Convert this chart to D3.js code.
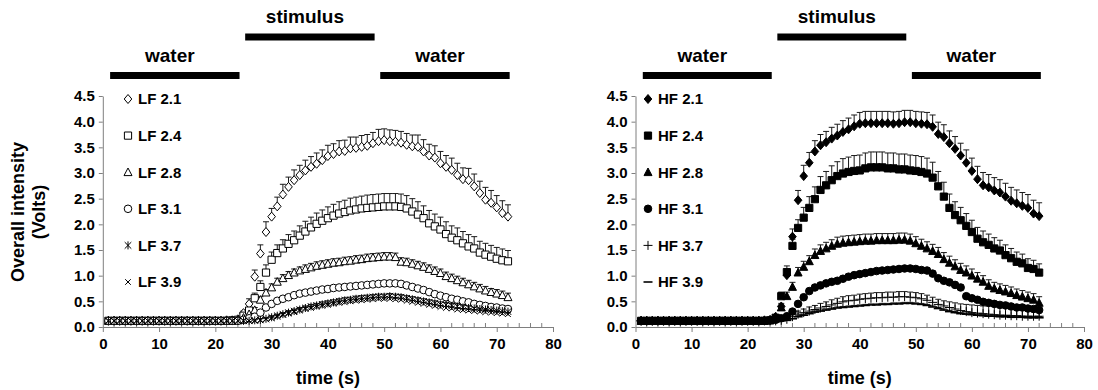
<!DOCTYPE html>
<html>
<head>
<meta charset="utf-8">
<script src="https://cdn.jsdelivr.net/npm/d3@7"></script>
<style>
  body { margin: 0; background: #fff; }
  svg text { font-family: "Liberation Sans", Arial, sans-serif; font-weight: bold; fill: #000; }
</style>
</head>
<body>
<svg id="chart" width="1098" height="390"></svg>
<script>
// sampling times (s)
const time = [1,2,3,4,5,6,7,8,9,10,11,12, 13,14,15,16,17,18,19,20,21,22,23,24,
  25,26,27,28,29,30,31,32,33,34,35,36, 37,38,39,40,41,42,43,44,45,46,47,48,
  49,50,51,52,53,54,55,56,57,58,59,60, 61,62,63,64,65,66,67,68,69,70,71,72];

// phases shown above each panel
const phaseLabels = ["water", "stimulus", "water"];
const phaseStart = [1.3, 25.3, 49.3];
const phaseEnd = [24.3, 48.3, 72.3];

const yTicks = [0, 0.5, 1, 1.5, 2, 2.5, 3, 3.5, 4, 4.5];
const xTicks = [0, 10, 20, 30, 40, 50, 60, 70, 80];

// ---- LF series (open markers) ----
const lfNames = ["LF 2.1", "LF 2.4", "LF 2.8", "LF 3.1", "LF 3.7", "LF 3.9"];
const lf21 = [0.12,0.12,0.12,0.12,0.12,0.12,0.12,0.12,0.12,0.12,0.12,0.12,
  0.12,0.12,0.12,0.12,0.12,0.12,0.12,0.12,0.12,0.13,0.13,0.15,
  0.27,0.45,0.98,1.43,1.85,2.15,2.35,2.58,2.73,2.86,2.96,3.05,
  3.12,3.18,3.25,3.33,3.37,3.42,3.43,3.48,3.49,3.51,3.53,3.58,
  3.62,3.64,3.62,3.61,3.59,3.55,3.52,3.51,3.42,3.34,3.30,3.19,
  3.12,3.06,2.96,2.88,2.86,2.74,2.61,2.48,2.42,2.33,2.22,2.15];
const lf24 = [0.12,0.12,0.12,0.12,0.12,0.12,0.12,0.12,0.12,0.12,0.12,0.12,
  0.12,0.12,0.12,0.12,0.12,0.12,0.12,0.12,0.12,0.12,0.13,0.14,
  0.22,0.32,0.56,0.78,1.06,1.31,1.44,1.53,1.62,1.69,1.78,1.86,
  1.94,2.01,2.07,2.12,2.17,2.21,2.24,2.27,2.29,2.31,2.32,2.33,
  2.34,2.35,2.35,2.35,2.34,2.31,2.25,2.19,2.12,2.02,1.96,1.90,
  1.81,1.74,1.69,1.63,1.57,1.53,1.45,1.41,1.37,1.33,1.30,1.28];
const lf28 = [0.12,0.12,0.12,0.12,0.12,0.12,0.12,0.12,0.12,0.12,0.12,0.12,
  0.12,0.12,0.12,0.12,0.12,0.12,0.12,0.12,0.12,0.12,0.12,0.13,
  0.18,0.25,0.33,0.53,0.67,0.77,0.88,0.95,1.01,1.06,1.10,1.13,
  1.16,1.19,1.21,1.23,1.25,1.26,1.28,1.29,1.31,1.32,1.34,1.35,
  1.36,1.37,1.37,1.36,1.27,1.26,1.23,1.20,1.17,1.13,1.09,1.05,
  0.99,0.95,0.91,0.87,0.83,0.79,0.75,0.71,0.68,0.65,0.62,0.58];
const lf31 = [0.12,0.12,0.12,0.12,0.12,0.12,0.12,0.12,0.12,0.12,0.12,0.12,
  0.12,0.12,0.12,0.12,0.12,0.12,0.12,0.12,0.12,0.12,0.12,0.12,
  0.14,0.17,0.20,0.28,0.38,0.45,0.51,0.55,0.58,0.62,0.65,0.67,
  0.69,0.71,0.73,0.74,0.76,0.77,0.78,0.79,0.80,0.81,0.82,0.83,
  0.84,0.85,0.85,0.85,0.84,0.81,0.78,0.75,0.72,0.68,0.64,0.61,
  0.58,0.55,0.53,0.50,0.48,0.45,0.43,0.41,0.39,0.38,0.36,0.35];
const lf37 = [0.12,0.12,0.12,0.12,0.12,0.12,0.12,0.12,0.12,0.12,0.12,0.12,
  0.12,0.12,0.12,0.12,0.12,0.12,0.12,0.12,0.12,0.12,0.12,0.12,
  0.12,0.12,0.13,0.14,0.16,0.19,0.22,0.25,0.28,0.31,0.34,0.37,
  0.40,0.42,0.44,0.46,0.48,0.50,0.52,0.53,0.55,0.56,0.57,0.58,
  0.59,0.59,0.60,0.59,0.58,0.56,0.54,0.52,0.50,0.48,0.46,0.44,
  0.43,0.41,0.40,0.38,0.37,0.36,0.35,0.34,0.33,0.32,0.31,0.30];
const lf39 = [0.12,0.12,0.12,0.12,0.12,0.12,0.12,0.12,0.12,0.12,0.12,0.12,
  0.12,0.12,0.12,0.12,0.12,0.12,0.12,0.12,0.12,0.12,0.12,0.12,
  0.12,0.12,0.12,0.13,0.15,0.17,0.20,0.23,0.26,0.29,0.32,0.35,
  0.37,0.39,0.41,0.43,0.45,0.47,0.48,0.50,0.51,0.52,0.53,0.54,
  0.55,0.55,0.55,0.54,0.53,0.51,0.49,0.47,0.45,0.43,0.41,0.39,
  0.37,0.36,0.34,0.33,0.32,0.31,0.30,0.29,0.28,0.27,0.26,0.25];

// upper error bars (SE)
const lf21Err = [0,0,0,0,0,0,0,0,0,0,0,0, 0,0,0,0,0,0,0,0,0,0.01,0.01,0.02,
  0.04,0.10,0.13,0.17,0.20,0.16,0.18,0.20,0.19,0.20,0.19,0.20,
  0.20,0.21,0.20,0.21,0.20,0.21,0.21,0.22,0.21,0.22,0.22,0.21,
  0.23,0.22,0.22,0.22,0.22,0.22,0.22,0.23,0.23,0.22,0.23,0.23,
  0.22,0.23,0.23,0.22,0.23,0.24,0.23,0.24,0.24,0.23,0.24,0.23];
const lf24Err = [0,0,0,0,0,0,0,0,0,0,0,0, 0,0,0,0,0,0,0,0,0,0.01,0.01,0.02,
  0.04,0.06,0.10,0.12,0.15,0.15,0.16,0.17,0.18,0.18,0.19,0.20,
  0.20,0.21,0.21,0.22,0.22,0.23,0.23,0.24,0.24,0.24,0.25,0.25,
  0.25,0.25,0.25,0.25,0.25,0.25,0.25,0.25,0.24,0.25,0.24,0.24,
  0.24,0.23,0.24,0.23,0.23,0.23,0.22,0.22,0.22,0.22,0.22,0.21];
const lf28Err = [0,0,0,0,0,0,0,0,0,0,0,0, 0,0,0,0,0,0,0,0,0,0,0.01,0.01,
  0.03,0.04,0.05,0.06,0.06,0.07,0.07,0.07,0.07,0.07,0.07,0.08,
  0.08,0.08,0.08,0.08,0.08,0.08,0.08,0.08,0.08,0.08,0.08,0.08,
  0.08,0.08,0.08,0.08,0.08,0.08,0.08,0.08,0.08,0.08,0.08,0.08,
  0.08,0.08,0.08,0.08,0.08,0.08,0.08,0.08,0.07,0.08,0.08,0.08];
const lf31Err = [0,0,0,0,0,0,0,0,0,0,0,0, 0,0,0,0,0,0,0,0,0,0,0,0.01,
  0.01,0.02,0.02,0.03,0.03,0.03,0.04,0.04,0.04,0.04,0.04,0.04,
  0.04,0.04,0.04,0.04,0.04,0.04,0.04,0.04,0.04,0.04,0.04,0.04,
  0.04,0.04,0.04,0.04,0.04,0.04,0.04,0.04,0.04,0.04,0.04,0.04,
  0.04,0.04,0.04,0.04,0.04,0.04,0.04,0.04,0.04,0.04,0.04,0.04];
const lf37Err = [0,0,0,0,0,0,0,0,0,0,0,0, 0,0,0,0,0,0,0,0,0,0,0,0,
  0,0.01,0.01,0.02,0.02,0.03,0.03,0.03,0.04,0.04,0.04,0.04,
  0.04,0.04,0.05,0.05,0.05,0.05,0.05,0.05,0.05,0.05,0.05,0.05,
  0.05,0.05,0.05,0.05,0.05,0.05,0.05,0.05,0.05,0.05,0.05,0.05,
  0.05,0.05,0.05,0.05,0.05,0.05,0.05,0.05,0.05,0.05,0.05,0.05];
const lf39Err = [0,0,0,0,0,0,0,0,0,0,0,0, 0,0,0,0,0,0,0,0,0,0,0,0,
  0,0,0.01,0.01,0.02,0.02,0.02,0.03,0.03,0.03,0.03,0.03,
  0.03,0.03,0.03,0.03,0.03,0.03,0.03,0.03,0.03,0.03,0.03,0.03,
  0.03,0.03,0.03,0.03,0.03,0.03,0.03,0.03,0.03,0.03,0.03,0.03,
  0.03,0.03,0.03,0.03,0.03,0.03,0.03,0.03,0.03,0.03,0.03,0.03];

// ---- HF series (filled markers) ----
const hfNames = ["HF 2.1", "HF 2.4", "HF 2.8", "HF 3.1", "HF 3.7", "HF 3.9"];
const hf21 = [0.12,0.12,0.12,0.12,0.12,0.12,0.12,0.12,0.12,0.12,0.12,0.12,
  0.12,0.12,0.12,0.12,0.12,0.12,0.12,0.12,0.12,0.12,0.13,0.14,
  0.20,0.40,1.01,1.76,2.47,2.94,3.20,3.42,3.54,3.60,3.67,3.73,
  3.80,3.85,3.91,3.96,3.97,3.97,3.97,3.97,3.97,3.96,3.97,3.99,
  3.99,3.97,3.96,3.95,3.90,3.76,3.70,3.58,3.47,3.34,3.20,3.04,
  2.88,2.76,2.72,2.66,2.62,2.54,2.46,2.41,2.36,2.32,2.21,2.16];
const hf24 = [0.12,0.12,0.12,0.12,0.12,0.12,0.12,0.12,0.12,0.12,0.12,0.12,
  0.12,0.12,0.12,0.12,0.12,0.12,0.12,0.12,0.12,0.12,0.12,0.13,
  0.18,0.60,1.07,1.58,1.93,2.13,2.32,2.49,2.67,2.76,2.86,2.94,
  2.99,3.02,3.04,3.05,3.09,3.11,3.11,3.11,3.09,3.09,3.07,3.07,
  3.05,3.04,3.02,2.99,2.91,2.74,2.54,2.32,2.18,2.08,1.97,1.85,
  1.72,1.65,1.60,1.53,1.49,1.40,1.34,1.27,1.24,1.15,1.13,1.06];
const hf28 = [0.12,0.12,0.12,0.12,0.12,0.12,0.12,0.12,0.12,0.12,0.12,0.12,
  0.12,0.12,0.12,0.12,0.12,0.12,0.12,0.12,0.12,0.12,0.12,0.13,
  0.16,0.38,0.60,0.78,1.06,1.17,1.28,1.40,1.48,1.53,1.58,1.62,
  1.64,1.65,1.66,1.67,1.68,1.68,1.69,1.69,1.69,1.69,1.70,1.70,
  1.68,1.63,1.58,1.53,1.48,1.42,1.32,1.25,1.18,1.11,1.06,1.00,
  0.94,0.88,0.80,0.75,0.72,0.69,0.66,0.62,0.59,0.56,0.53,0.47];
const hf31 = [0.12,0.12,0.12,0.12,0.12,0.12,0.12,0.12,0.12,0.12,0.12,0.12,
  0.12,0.12,0.12,0.12,0.12,0.12,0.12,0.12,0.12,0.12,0.12,0.13,
  0.14,0.17,0.21,0.30,0.45,0.58,0.70,0.77,0.81,0.85,0.88,0.90,
  0.94,0.98,1.01,1.03,1.05,1.07,1.09,1.10,1.11,1.12,1.13,1.14,
  1.14,1.13,1.11,1.10,1.04,0.95,0.90,0.87,0.82,0.77,0.60,0.56,
  0.53,0.49,0.47,0.45,0.43,0.42,0.40,0.38,0.38,0.36,0.35,0.33];
const hf37 = [0.12,0.12,0.12,0.12,0.12,0.12,0.12,0.12,0.12,0.12,0.12,0.12,
  0.12,0.12,0.12,0.12,0.12,0.12,0.12,0.12,0.12,0.12,0.12,0.12,
  0.12,0.13,0.15,0.20,0.25,0.28,0.31,0.34,0.37,0.40,0.43,0.46,
  0.49,0.51,0.52,0.54,0.55,0.56,0.57,0.57,0.58,0.58,0.59,0.59,
  0.58,0.57,0.55,0.52,0.48,0.44,0.41,0.38,0.35,0.32,0.30,0.28,
  0.27,0.26,0.25,0.24,0.23,0.23,0.22,0.22,0.21,0.21,0.21,0.21];
const hf39 = [0.12,0.12,0.12,0.12,0.12,0.12,0.12,0.12,0.12,0.12,0.12,0.12,
  0.12,0.12,0.12,0.12,0.12,0.12,0.12,0.12,0.12,0.12,0.12,0.12,
  0.12,0.12,0.13,0.16,0.20,0.23,0.26,0.29,0.31,0.33,0.35,0.37,
  0.38,0.39,0.40,0.41,0.42,0.43,0.43,0.44,0.44,0.45,0.45,0.46,
  0.46,0.45,0.44,0.42,0.39,0.36,0.33,0.30,0.28,0.26,0.25,0.24,
  0.23,0.22,0.21,0.21,0.20,0.20,0.19,0.19,0.19,0.18,0.18,0.18];

const hf21Err = [0,0,0,0,0,0,0,0,0,0,0,0, 0,0,0,0,0,0,0,0,0,0,0.01,0.02,
  0.03,0.06,0.10,0.15,0.19,0.21,0.20,0.21,0.21,0.21,0.22,0.22,
  0.22,0.22,0.22,0.22,0.23,0.23,0.23,0.23,0.23,0.23,0.23,0.23,
  0.23,0.23,0.23,0.23,0.23,0.23,0.24,0.24,0.24,0.24,0.25,0.25,
  0.25,0.25,0.25,0.25,0.25,0.26,0.26,0.26,0.26,0.26,0.26,0.26];
const hf24Err = [0,0,0,0,0,0,0,0,0,0,0,0, 0,0,0,0,0,0,0,0,0,0,0.01,0.02,
  0.03,0.08,0.12,0.13,0.16,0.20,0.22,0.24,0.26,0.27,0.28,0.28,
  0.29,0.29,0.30,0.30,0.30,0.30,0.30,0.30,0.30,0.30,0.30,0.30,
  0.30,0.30,0.30,0.30,0.30,0.29,0.28,0.27,0.26,0.25,0.24,0.23,
  0.22,0.22,0.21,0.21,0.20,0.20,0.19,0.19,0.18,0.18,0.17,0.17];
const hf28Err = [0,0,0,0,0,0,0,0,0,0,0,0, 0,0,0,0,0,0,0,0,0,0,0.01,0.01,
  0.03,0.05,0.08,0.09,0.10,0.11,0.11,0.12,0.12,0.12,0.12,0.13,
  0.13,0.13,0.13,0.13,0.13,0.13,0.13,0.13,0.13,0.13,0.13,0.13,
  0.13,0.13,0.13,0.13,0.13,0.13,0.13,0.13,0.13,0.13,0.13,0.13,
  0.12,0.12,0.12,0.12,0.12,0.12,0.12,0.12,0.12,0.12,0.12,0.12];
const hf31Err = [0,0,0,0,0,0,0,0,0,0,0,0, 0,0,0,0,0,0,0,0,0,0,0,0.01,
  0.01,0.02,0.02,0.03,0.04,0.04,0.05,0.05,0.05,0.05,0.05,0.05,
  0.05,0.05,0.05,0.05,0.05,0.05,0.05,0.05,0.05,0.05,0.05,0.05,
  0.05,0.05,0.05,0.05,0.05,0.05,0.05,0.05,0.05,0.05,0.05,0.05,
  0.05,0.05,0.05,0.05,0.05,0.05,0.05,0.05,0.05,0.05,0.05,0.05];
const hf37Err = [0,0,0,0,0,0,0,0,0,0,0,0, 0,0,0,0,0,0,0,0,0,0,0,0,
  0.01,0.02,0.03,0.05,0.06,0.07,0.08,0.08,0.09,0.09,0.10,0.10,
  0.10,0.10,0.10,0.10,0.10,0.10,0.10,0.10,0.10,0.10,0.10,0.10,
  0.10,0.10,0.10,0.10,0.10,0.10,0.10,0.11,0.12,0.13,0.14,0.15,
  0.15,0.15,0.16,0.16,0.16,0.16,0.16,0.16,0.16,0.16,0.16,0.16];
const hf39Err = [0,0,0,0,0,0,0,0,0,0,0,0, 0,0,0,0,0,0,0,0,0,0,0,0,
  0,0,0.01,0.01,0.02,0.02,0.02,0.02,0.02,0.02,0.02,0.02,
  0.02,0.02,0.02,0.02,0.02,0.02,0.02,0.02,0.02,0.02,0.02,0.02,
  0.02,0.02,0.02,0.02,0.02,0.02,0.02,0.02,0.02,0.02,0.02,0.02,
  0.02,0.02,0.02,0.02,0.02,0.02,0.02,0.02,0.02,0.02,0.02,0.02];

const lfValues = [lf21, lf24, lf28, lf31, lf37, lf39];
const lfErrors = [lf21Err, lf24Err, lf28Err, lf31Err, lf37Err, lf39Err];
const lfMarkers = ["diamond", "square", "triangle", "circle", "asterisk", "times"];
const hfValues = [hf21, hf24, hf28, hf31, hf37, hf39];
const hfErrors = [hf21Err, hf24Err, hf28Err, hf31Err, hf37Err, hf39Err];
const hfMarkers = ["diamond", "square", "triangle", "circle", "plus", "minus"];

// marker shapes, drawn around (0,0)
function markerPath(type) {
  const p = d3.path();
  if (type === "diamond") {
    p.moveTo(0, -4.5); p.lineTo(3.8, 0); p.lineTo(0, 4.5); p.lineTo(-3.8, 0); p.closePath();
  } else if (type === "square") {
    p.rect(-3.6, -3.6, 7.2, 7.2);
  } else if (type === "triangle") {
    p.moveTo(0, -4.2); p.lineTo(4, 3.4); p.lineTo(-4, 3.4); p.closePath();
  } else if (type === "circle") {
    p.arc(0, 0, 3.8, 0, 2 * Math.PI);
  } else if (type === "asterisk") {
    p.moveTo(-3.3, -3.3); p.lineTo(3.3, 3.3); p.moveTo(3.3, -3.3); p.lineTo(-3.3, 3.3);
    p.moveTo(0, -4); p.lineTo(0, 4);
  } else if (type === "times") {
    p.moveTo(-2.8, -2.8); p.lineTo(2.8, 2.8); p.moveTo(2.8, -2.8); p.lineTo(-2.8, 2.8);
  } else if (type === "plus") {
    p.moveTo(-4.5, 0); p.lineTo(4.5, 0); p.moveTo(0, -4.5); p.lineTo(0, 4.5);
  } else if (type === "minus") {
    p.moveTo(-4.5, 0); p.lineTo(4.5, 0);
  }
  return p.toString();
}
const lineOnly = ["asterisk", "times", "plus", "minus"];

const svg = d3.select("#chart");

function drawPanel(opt) {
  const x = d3.scaleLinear().domain([0, 80]).range([opt.left, opt.right]);
  const y = d3.scaleLinear().domain([0, 4.5]).range([327, 96]);
  const g = svg.append("g");

  // phase bars + labels
  const rows = [{y: 72, ty: 62}, {y: 33.5, ty: 23}];
  phaseLabels.forEach((lab, i) => {
    const r = lab === "stimulus" ? rows[1] : rows[0];
    g.append("rect")
      .attr("x", x(phaseStart[i])).attr("y", r.y)
      .attr("width", x(phaseEnd[i]) - x(phaseStart[i])).attr("height", 7)
      .attr("fill", "#000");
    g.append("text")
      .attr("x", (x(phaseStart[i]) + x(phaseEnd[i])) / 2 - 5).attr("y", r.ty)
      .attr("text-anchor", "middle").style("font-size", "19px")
      .text(lab);
  });

  // axes
  const yAxis = g.append("g").attr("transform", `translate(${opt.left},0)`)
    .call(d3.axisLeft(y).tickValues(yTicks).tickFormat(d3.format(".1f")).tickSize(4).tickSizeOuter(0));
  const xAxis = g.append("g").attr("transform", "translate(0,327)")
    .call(d3.axisBottom(x).tickValues(xTicks).tickFormat(d3.format("d")).tickSize(5).tickSizeOuter(0));
  // minor ticks every 2 s, pointing up
  g.append("g").selectAll("line")
    .data(d3.range(2, 80, 2).filter(d => d % 10 !== 0))
    .join("line")
    .attr("x1", d => x(d)).attr("x2", d => x(d))
    .attr("y1", 327).attr("y2", 323);
  g.selectAll(".domain, .tick line, g > line").attr("stroke", "#7f7f7f");
  [yAxis, xAxis].forEach(a => a.selectAll("text").style("font-size", "15px").attr("fill", "#000"));
  yAxis.selectAll("text").attr("x", -8);
  xAxis.selectAll("text").attr("y", 11);

  xAxis.append("text")
    .attr("x", (opt.left + opt.right) / 2).attr("y", 57)
    .attr("text-anchor", "middle").style("font-size", "18px")
    .text("time (s)");

  // error bars (upper only) and markers
  opt.values.forEach((vals, s) => {
    const errs = opt.errors[s];
    const eb = g.append("g").attr("stroke", "#1a1a1a").attr("stroke-width", 1);
    const pts = time.map((t, i) => ({t: t, v: vals[i], e: errs[i]})).filter(d => d.e > 0.015);
    eb.selectAll(".stem").data(pts).join("line")
      .attr("x1", d => x(d.t)).attr("x2", d => x(d.t))
      .attr("y1", d => y(d.v)).attr("y2", d => y(d.v + d.e));
    eb.selectAll(".cap").data(pts).join("line")
      .attr("x1", d => x(d.t) - 3).attr("x2", d => x(d.t) + 3)
      .attr("y1", d => y(d.v + d.e)).attr("y2", d => y(d.v + d.e));
  });
  opt.values.forEach((vals, s) => {
    const type = opt.markers[s];
    g.append("g").selectAll("path")
      .data(time.map((t, i) => ({t: t, v: vals[i]})))
      .join("path")
      .attr("transform", d => `translate(${x(d.t)},${y(d.v)})`)
      .attr("d", markerPath(type))
      .attr("fill", lineOnly.includes(type) ? "none" : (opt.filled ? "#000" : "#fff"))
      .attr("stroke", "#000")
      .attr("stroke-width", type === "minus" ? 1.6 : 1);
  });

  // legend
  opt.names.forEach((name, i) => {
    const ly = 99 + i * 36.6;
    const type = opt.markers[i];
    g.append("path")
      .attr("transform", `translate(${opt.legendX},${ly})`)
      .attr("d", markerPath(type))
      .attr("fill", lineOnly.includes(type) ? "none" : (opt.filled ? "#000" : "#fff"))
      .attr("stroke", "#000")
      .attr("stroke-width", type === "minus" ? 1.6 : 1);
    g.append("text")
      .attr("x", opt.legendX + 10).attr("y", ly).attr("dy", "0.36em")
      .style("font-size", "15px")
      .text(name);
  });
}

drawPanel({left: 102.8, right: 553, legendX: 128, names: lfNames, values: lfValues,
  errors: lfErrors, markers: lfMarkers, filled: false});
drawPanel({left: 635.5, right: 1084, legendX: 648, names: hfNames, values: hfValues,
  errors: hfErrors, markers: hfMarkers, filled: true});

// y axis title (left panel only)
svg.append("text")
  .attr("transform", "translate(24,212) rotate(-90)")
  .attr("text-anchor", "middle").style("font-size", "18px")
  .text("Overall intensity");
svg.append("text")
  .attr("transform", "translate(45,212) rotate(-90)")
  .attr("text-anchor", "middle").style("font-size", "18px")
  .text("(Volts)");
</script>
</body>
</html>
